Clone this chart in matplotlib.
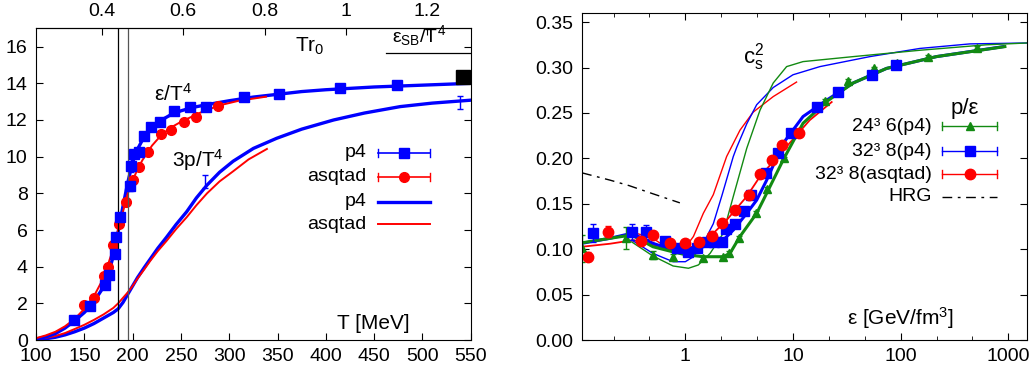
"""QCD equation of state: energy density / pressure (left) and p/eps, c_s^2 (right)."""
import matplotlib
matplotlib.use("Agg")
import matplotlib.pyplot as plt
from matplotlib.ticker import FixedLocator, NullFormatter

plt.rcParams["font.family"] = ["Liberation Sans", "DejaVu Sans"]
plt.rcParams["font.size"] = 14
plt.rcParams["mathtext.fontset"] = "custom"
plt.rcParams["mathtext.rm"] = "Liberation Sans"
plt.rcParams["mathtext.it"] = "Liberation Sans"
plt.rcParams["mathtext.default"] = "regular"

BLUE = "#0000ff"
RED = "#ff0000"
GREEN = "#128a12"

# ---------------- left panel data ----------------
T_eps_p4 = [139, 156, 171, 176, 182, 183, 187, 197, 198, 201, 207, 212, 219, 228, 243, 259, 276, 315, 352, 415, 474]
eps_p4 = [1.1, 1.85, 3.0, 3.55, 4.7, 5.64, 6.69, 8.4, 9.5, 10.15, 10.24, 11.15, 11.64, 11.88, 12.49, 12.73, 12.73, 13.24, 13.4, 13.73, 13.89]
eps_p4_err = [0.1, 0.1, 0.1, 0.1, 0.15, 0.15, 0.2, 0.25, 0.35, 0.2, 0.15, 0.1, 0.1, 0.1, 0.1, 0.1, 0.1, 0.1, 0.1, 0.1, 0.1]

T_eps_asq = [139, 150, 160, 170, 175, 180, 186, 193, 200, 207, 216, 229, 240, 253, 266, 288]
eps_asq = [1.09, 1.93, 2.27, 3.51, 4.0, 5.16, 6.32, 7.5, 8.7, 9.42, 10.27, 11.26, 11.44, 11.87, 12.14, 12.77]

T_line_eps_p4 = [100, 110, 120, 130, 140, 150, 160, 170, 175, 180, 185, 190, 195, 200, 205, 210, 215, 220, 230, 240,
                 250, 262, 275, 300, 325, 350, 375, 400, 450, 500, 550]
line_eps_p4 = [0.05, 0.17, 0.35, 0.65, 1.05, 1.5, 2.1, 2.9, 3.6, 4.6, 5.9, 7.3, 8.6, 9.7, 10.4, 10.9, 11.3, 11.6, 12.0, 12.3,
               12.5, 12.68, 12.82, 13.05, 13.25, 13.4, 13.55, 13.65, 13.8, 13.9, 14.0]

T_line_eps_asq = [100, 110, 120, 130, 140, 150, 160, 170, 180, 185, 190, 195, 200, 205, 210, 220, 230, 240, 250, 260,
                  270, 290, 310, 338]
line_eps_asq = [0.1, 0.25, 0.45, 0.75, 1.15, 1.7, 2.4, 3.4, 5.0, 6.0, 7.0, 8.0, 8.7, 9.3, 9.8, 10.6, 11.2, 11.6, 11.9, 12.15,
                12.4, 12.8, 13.05, 13.27]

T_line_p_p4 = [100, 110, 120, 130, 140, 150, 160, 170, 180, 185, 190, 195, 200, 205, 212, 218, 226, 235, 245, 256, 266,
               277, 290, 304, 325, 349, 375, 408, 440, 477, 510, 550]
line_p_p4 = [0.02, 0.07, 0.15, 0.28, 0.45, 0.65, 0.9, 1.2, 1.5, 1.7, 2.05, 2.5, 2.95, 3.4, 3.95, 4.4, 5.0, 5.6, 6.3, 7.0,
             7.75, 8.45, 9.15, 9.75, 10.45, 11.0, 11.5, 12.0, 12.38, 12.73, 12.92, 13.08]

T_line_p_asq = [100, 110, 120, 130, 140, 150, 160, 170, 180, 185, 190, 195, 200, 205, 212, 218, 226, 235, 245, 256, 266,
                277, 290, 304, 320, 339]
line_p_asq = [0.05, 0.12, 0.22, 0.38, 0.6, 0.83, 1.1, 1.4, 1.75, 2.0, 2.3, 2.6, 2.95, 3.35, 3.85, 4.3, 4.85, 5.4, 6.05, 6.7,
              7.35, 8.0, 8.65, 9.2, 9.85, 10.42]

T_p_err = [275, 539]
p_err_val = [8.65, 12.95]
p_err = [0.35, 0.35]

T_c_lines = [185, 195]
eps_sb = 15.63
T_sb = [462, 550]
T_sb_point = [542]
eps_sb_point = [14.37]

r0_over_hbarc = 0.469 / 197.33
tr0_ticks = [0.4, 0.6, 0.8, 1.0, 1.2]
tr0_labels = ["0.4", "0.6", "0.8", "1", "1.2"]

# ---------------- right panel data ----------------
e_g = [0.11, 0.28, 0.50, 0.77, 1.47, 2.22, 2.56, 3.15, 4.53, 5.77, 8.25, 19.8, 32.6, 56.5, 91.8, 178, 508]
pe_g = [0.101, 0.112, 0.0936, 0.0917, 0.090, 0.091, 0.096, 0.112, 0.1395, 0.166, 0.200, 0.263, 0.285, 0.299, 0.305, 0.312, 0.322]
pe_g_err = [0.015, 0.012, 0.004, 0.003, 0.003, 0.002, 0.002, 0.002, 0.002, 0.002, 0.002, 0.002, 0.002, 0.002, 0.002, 0.002, 0.002]

e_b = [0.138, 0.322, 0.43, 0.65, 0.83, 1.07, 1.29, 1.58, 1.86, 2.18, 2.39, 2.89, 3.5, 4.07, 5.6, 7.3, 9.5, 16.6, 26, 53.8, 90.4]
pe_b = [0.1175, 0.119, 0.119, 0.109, 0.101, 0.097, 0.101, 0.1075, 0.1075, 0.1075, 0.122, 0.128, 0.142, 0.160, 0.1835, 0.2056, 0.2276, 0.256, 0.273, 0.292, 0.303]
pe_b_err = [0.01, 0.009, 0.008, 0.004, 0.003, 0.003, 0.003, 0.003, 0.003, 0.003, 0.003, 0.003, 0.002, 0.002, 0.002, 0.002, 0.002, 0.002, 0.002, 0.002, 0.002]

e_r = [0.124, 0.19, 0.385, 0.50, 0.72, 1.0, 1.34, 1.78, 2.18, 2.89, 3.93, 4.94, 6.34, 7.85, 11.4]
pe_r = [0.0917, 0.119, 0.109, 0.1156, 0.107, 0.107, 0.108, 0.115, 0.1285, 0.143, 0.160, 0.183, 0.198, 0.215, 0.228]
pe_r_err = [0.005, 0.006, 0.004, 0.003, 0.003, 0.003, 0.003, 0.003, 0.003, 0.003, 0.003, 0.003, 0.003, 0.003, 0.003]

e_fit_g = [0.11, 0.2, 0.318, 0.5, 0.77, 1.0, 1.47, 2.25, 2.6, 3.22, 4.6, 5.3, 8.25, 12.4, 20.5, 36.3, 74, 215, 930]
fit_g = [0.107, 0.112, 0.1156, 0.1027, 0.097, 0.094, 0.0917, 0.0917, 0.0954, 0.114, 0.1395, 0.154, 0.200, 0.2386, 0.2625, 0.283, 0.299, 0.312, 0.323]

e_fit_b = [0.11, 0.2, 0.318, 0.5, 0.77, 1.03, 1.47, 2.1, 2.79, 3.72, 4.6, 5.7, 8.1, 12.4, 20.5, 36.3, 74, 215, 900]
fit_b = [0.1065, 0.112, 0.1175, 0.1065, 0.099, 0.096, 0.1027, 0.1065, 0.121, 0.1395, 0.154, 0.176, 0.2165, 0.246, 0.264, 0.283, 0.299, 0.312, 0.323]

e_fit_r = [0.11, 0.2, 0.33, 0.58, 0.83, 1.28, 1.82, 2.42, 3.72, 4.94, 8.73, 14.3, 22.9]
fit_r = [0.1027, 0.106, 0.110, 0.103, 0.097, 0.1046, 0.1175, 0.132, 0.158, 0.18, 0.213, 0.242, 0.262]

e_cs_b = [0.318, 0.5, 0.77, 1.0, 1.19, 1.47, 1.82, 2.2, 2.79, 3.0, 3.72, 4.6, 6.56, 10, 17.8, 51.8, 151, 440, 1480]
cs_b = [0.110, 0.0954, 0.0862, 0.0862, 0.0917, 0.1065, 0.128, 0.16, 0.202, 0.212, 0.238, 0.259, 0.278, 0.292, 0.301, 0.312, 0.321, 0.326, 0.327]

e_cs_g = [0.318, 0.5, 0.77, 1.07, 1.32, 1.70, 2.25, 2.79, 3.72, 4.94, 6.56, 8.73, 12.4, 36.3, 151, 626, 1480]
cs_g = [0.108, 0.0925, 0.0815, 0.079, 0.0826, 0.0954, 0.1175, 0.158, 0.211, 0.253, 0.283, 0.301, 0.3065, 0.312, 0.319, 0.325, 0.327]

e_cs_r = [0.318, 0.5, 0.77, 0.96, 1.19, 1.47, 1.82, 2.42, 3.22, 4.28, 6.56, 10.8]
cs_r = [0.119, 0.112, 0.097, 0.099, 0.114, 0.1395, 0.160, 0.202, 0.231, 0.251, 0.268, 0.284]

e_hrg = [0.11, 0.2, 0.3, 0.5, 0.89]
pe_hrg = [0.184, 0.176, 0.170, 0.161, 0.151]


def legend_row(ax, y, label, color, marker=None, ms=7, lw=1.2, caps=True,
               xt=0.76, x0=0.787, x1=0.906, dashes=None):
    ax.text(xt, y, label, transform=ax.transAxes, ha="right", va="center")
    line, = ax.plot([x0, x1], [y, y], color=color, lw=lw,
                    transform=ax.transAxes, clip_on=False)
    if dashes:
        line.set_dashes(dashes)
    if caps:
        for xc in (x0, x1):
            ax.plot([xc, xc], [y - 0.012, y + 0.012], color=color, lw=1.0,
                    transform=ax.transAxes, clip_on=False)
    if marker:
        ax.plot([(x0 + x1) / 2], [y], marker=marker, color=color, ms=ms,
                transform=ax.transAxes, clip_on=False, ls="none")


fig = plt.figure(figsize=(10.33, 3.75), dpi=100)
axL = fig.add_axes([0.0349, 0.0933, 0.4208, 0.8312])
axR = fig.add_axes([0.5631, 0.0933, 0.4308, 0.872])

# ---------------- left ----------------
ax = axL
ax.plot(T_line_p_p4, line_p_p4, color=BLUE, lw=2.4)
ax.plot(T_line_p_asq, line_p_asq, color=RED, lw=1.4)
ax.plot(T_line_eps_p4, line_eps_p4, color=BLUE, lw=2.4)
ax.plot(T_line_eps_asq, line_eps_asq, color=RED, lw=1.4)
ax.errorbar(T_eps_p4, eps_p4, yerr=eps_p4_err, fmt="s", color=BLUE, ms=7, capsize=2, elinewidth=1)
ax.plot(T_eps_asq, eps_asq, "o", color=RED, ms=7)
ax.errorbar(T_p_err, p_err_val, yerr=p_err, fmt="none", ecolor=BLUE, capsize=2, elinewidth=1)
ax.axvline(T_c_lines[0], color="black", lw=0.9)
ax.axvline(T_c_lines[1], color="#555555", lw=0.9)
ax.plot(T_sb, [eps_sb, eps_sb], color="black", lw=0.9)
ax.plot(T_sb_point, eps_sb_point, "s", color="black", ms=10)

ax.set_xlim(100, 550)
ax.set_ylim(0, 17)
ax.set_xticks(range(100, 551, 50))
ax.set_yticks(range(0, 17, 2))
ax.tick_params(direction="in", length=5, top=False, right=True, pad=6)

sec = ax.secondary_xaxis("top", functions=(lambda t: t * r0_over_hbarc, lambda s: s / r0_over_hbarc))
sec.set_xticks(tr0_ticks)
sec.set_xticklabels(tr0_labels)
sec.tick_params(direction="in", length=5, pad=6)

ax.text(383, 16.0, "Tr$_0$", ha="center", va="center", fontsize=15)
ax.text(497, 16.6, "ε$_{SB}$/T$^4$", ha="center", va="center")
ax.text(242, 13.4, "ε/T$^4$", ha="center", va="center", fontsize=15)
ax.text(267, 9.8, "3p/T$^4$", ha="center", va="center", fontsize=15)
ax.text(449, 0.9, "T [MeV]", ha="center", va="center", fontsize=15)

legend_row(ax, 0.600, "p4", BLUE, marker="s", ms=7, lw=1.2)
legend_row(ax, 0.523, "asqtad", RED, marker="o", ms=7, lw=1.2)
legend_row(ax, 0.444, "p4", BLUE, lw=2.4, caps=False)
legend_row(ax, 0.371, "asqtad", RED, lw=1.4, caps=False)

# ---------------- right ----------------
ax = axR
ax.plot(e_hrg, pe_hrg, color="black", lw=1.0, dashes=(7, 4, 2, 4))
ax.plot(e_cs_r, cs_r, color=RED, lw=1.0)
ax.plot(e_cs_b, cs_b, color=BLUE, lw=1.0)
ax.plot(e_cs_g, cs_g, color=GREEN, lw=1.0)
ax.plot(e_fit_r, fit_r, color=RED, lw=1.3)
ax.plot(e_fit_b, fit_b, color=BLUE, lw=2.2)
ax.plot(e_fit_g, fit_g, color=GREEN, lw=2.2)
ax.errorbar(e_g, pe_g, yerr=pe_g_err, fmt="^", color=GREEN, ms=6, capsize=2, elinewidth=1)
ax.errorbar(e_b, pe_b, yerr=pe_b_err, fmt="s", color=BLUE, ms=7.5, capsize=2, elinewidth=1)
ax.errorbar(e_r, pe_r, yerr=pe_r_err, fmt="o", color=RED, ms=7.5, capsize=2, elinewidth=1)

ax.set_xscale("log")
ax.set_xlim(0.109, 1483)
ax.set_ylim(0, 0.36)
ax.set_xticks([1, 10, 100, 1000])
ax.set_xticklabels(["1", "10", "100", "1000"])
minor = []
for d in [-1, 0, 1, 2, 3]:
    minor += [10 ** (d + 1 / 3), 10 ** (d + 2 / 3)]
ax.xaxis.set_minor_locator(FixedLocator(minor))
ax.xaxis.set_minor_formatter(NullFormatter())
ax.set_yticks([0, 0.05, 0.10, 0.15, 0.20, 0.25, 0.30, 0.35])
ax.set_yticklabels(["0.00", "0.05", "0.10", "0.15", "0.20", "0.25", "0.30", "0.35"])
ax.tick_params(which="both", direction="in", top=True, right=True, pad=6)
ax.tick_params(which="major", length=5)
ax.tick_params(which="minor", length=3)

ax.text(4.3, 0.312, "c$_s^2$", ha="center", va="center", fontsize=16)
ax.text(100, 0.024, "ε [GeV/fm$^3$]", ha="center", va="center", fontsize=15)
ax.text(0.861, 0.709, "p/ε", transform=ax.transAxes, ha="center", va="center", fontsize=16)

kw = dict(xt=0.786, x0=0.81, x1=0.934)
legend_row(ax, 0.654, "24³ 6(p4)", GREEN, marker="^", ms=6, lw=1.0, **kw)
legend_row(ax, 0.578, "32³ 8(p4)", BLUE, marker="s", ms=7.5, lw=1.0, **kw)
legend_row(ax, 0.507, "32³ 8(asqtad)", RED, marker="o", ms=7.5, lw=1.0, **kw)
legend_row(ax, 0.438, "HRG", "black", lw=1.0, caps=False, dashes=(7, 4, 2, 4), **kw)

fig.savefig("out.png", dpi=100)
